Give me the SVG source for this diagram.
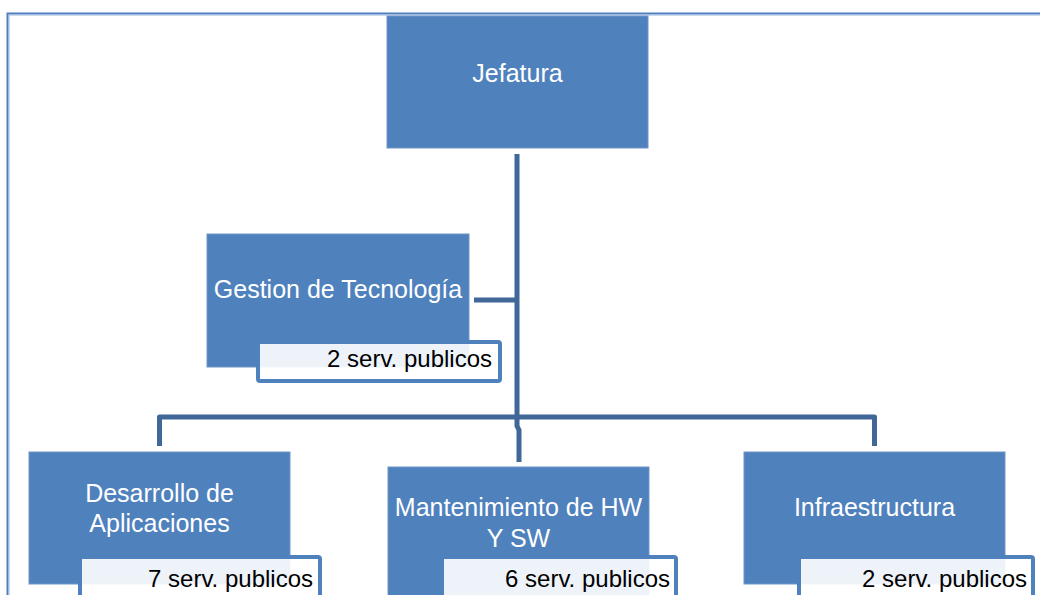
<svg xmlns="http://www.w3.org/2000/svg" width="1040" height="595" viewBox="0 0 1040 595">
  <style>
    .unit { fill: #4f81bd; stroke: #7095c8; stroke-width: 1; }
    .unit-label { font-family: "Liberation Sans", Arial, sans-serif; font-size: 25px; fill: #ffffff; text-anchor: middle; }
    .staff { fill: #ffffff; fill-opacity: 0.9; stroke: #4f81bd; stroke-width: 4; }
    .staff-label { font-family: "Liberation Sans", Arial, sans-serif; font-size: 24px; fill: #000000; text-anchor: end; }
    .link { fill: none; stroke: #3f6797; stroke-width: 5; stroke-linejoin: round; }
  </style>

  <rect width="1040" height="595" fill="#ffffff"/>

  <!-- page frame -->
  <g id="frame">
    <path d="M7.5 600 V13.5 H1045" fill="none" stroke="#4f7fbf" stroke-width="2"/>
    <path d="M9 600 V15 H1045" fill="none" stroke="#9bb6db" stroke-width="1"/>
  </g>

  <!-- connectors -->
  <g id="connectors">
    <line class="link" x1="517" y1="154" x2="517" y2="418"/>
    <line class="link" x1="474" y1="300" x2="517" y2="300"/>
    <path class="link" d="M159.5 446 V417 H874.5 V446"/>
    <path class="link" d="M517 417 V426 L519 430 V462"/>
  </g>

  <g id="jefatura">
    <rect class="unit" x="387" y="16" width="261" height="132"/>
    <text class="unit-label" x="517.5" y="82">Jefatura</text>
  </g>

  <g id="gestion-tecnologia">
    <rect class="unit" x="207" y="234" width="262" height="133"/>
    <text class="unit-label" x="338" y="298">Gestion de Tecnología</text>
    <rect class="staff" x="258" y="342" width="242" height="39" rx="2"/>
    <text class="staff-label" x="492" y="367">2 serv. publicos</text>
  </g>

  <g id="desarrollo-aplicaciones">
    <rect class="unit" x="29" y="452" width="261" height="132"/>
    <text class="unit-label" x="159.5" y="502">Desarrollo de</text>
    <text class="unit-label" x="159.5" y="532">Aplicaciones</text>
    <rect class="staff" x="80" y="557" width="240" height="42" rx="2"/>
    <text class="staff-label" x="313" y="587">7 serv. publicos</text>
  </g>

  <g id="mantenimiento-hw-sw">
    <rect class="unit" x="388" y="467" width="261" height="132"/>
    <text class="unit-label" x="518.5" y="516">Mantenimiento de HW</text>
    <text class="unit-label" x="518.5" y="547">Y SW</text>
    <rect class="staff" x="442" y="557" width="234" height="42" rx="2"/>
    <text class="staff-label" x="670" y="587">6 serv. publicos</text>
  </g>

  <g id="infraestructura">
    <rect class="unit" x="744" y="452" width="261" height="132"/>
    <text class="unit-label" x="874.5" y="516">Infraestructura</text>
    <rect class="staff" x="799" y="557" width="234" height="42" rx="2"/>
    <text class="staff-label" x="1027" y="587">2 serv. publicos</text>
  </g>
</svg>
